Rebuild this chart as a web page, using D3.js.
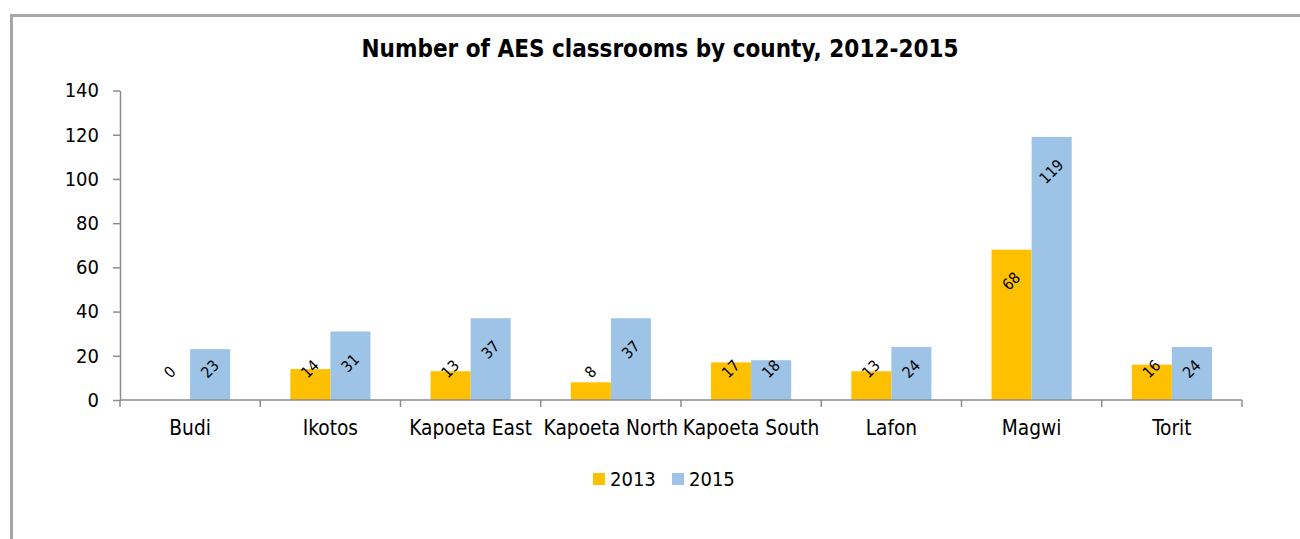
<!DOCTYPE html>
<html>
<head>
<meta charset="utf-8">
<script src="https://cdn.jsdelivr.net/npm/d3@7"></script>
<style>
  html, body { margin: 0; padding: 0; background: #fff; }
  svg { display: block; }
  text { font-family: "DejaVu Sans Condensed", "DejaVu Sans", sans-serif; font-stretch: condensed; fill: #000; }
</style>
</head>
<body>
<svg id="chart" width="1300" height="539"></svg>
<script>
// County names along the category axis
const counties = ["Budi", "Ikotos", "Kapoeta East", "Kapoeta North", "Kapoeta South", "Lafon", "Magwi", "Torit"];
// Series names (legend entries)
const seriesNames = ["2013", "2015"];
// AES classrooms per county
const values2013 = [0, 14, 13, 8, 17, 13, 68, 16];
const values2015 = [23, 31, 37, 37, 18, 24, 119, 24];
// Value axis ticks
const yTicks = [0, 20, 40, 60, 80, 100, 120, 140];
const titleText = "Number of AES classrooms by county, 2012-2015";

const colors = { "2013": "#FFC000", "2015": "#9DC3E6" };
const seriesValues = { "2013": values2013, "2015": values2015 };

const svg = d3.select("#chart");

// Outer chart frame (runs off the right and bottom edges)
svg.append("rect")
  .attr("x", 11.5).attr("y", 15.5)
  .attr("width", 1400).attr("height", 600)
  .attr("fill", "none")
  .attr("stroke", "#a6a6a6")
  .attr("stroke-width", 3);

const plot = { left: 120, right: 1242, top: 90.5, bottom: 400 };

const x = d3.scaleBand().domain(counties).range([plot.left, plot.right]).paddingInner(0).paddingOuter(0);
const xs = d3.scaleBand().domain(seriesNames).range([0, x.bandwidth()]).paddingInner(0).paddingOuter(0.75);
const y = d3.scaleLinear().domain([0, 140]).range([plot.bottom, plot.top]);

// Title
svg.append("text")
  .attr("x", 660).attr("y", 57)
  .attr("text-anchor", "middle")
  .style("font-weight", "bold")
  .style("font-size", "24px")
  .text(titleText);

// Bars
const groups = svg.append("g").selectAll("g")
  .data(counties)
  .join("g")
  .attr("transform", d => `translate(${x(d)},0)`);

const barData = (c, i) => seriesNames.map(s => ({ county: c, series: s, value: seriesValues[s][i] }));

groups.selectAll("rect")
  .data((c, i) => barData(c, i))
  .join("rect")
  .attr("x", d => xs(d.series))
  .attr("y", d => y(d.value))
  .attr("width", xs.bandwidth())
  .attr("height", d => y(0) - y(d.value))
  .attr("fill", d => colors[d.series]);

// Axes
const axisColor = "#8c8c8c";
const yAxis = svg.append("g")
  .attr("transform", `translate(${plot.left},0)`)
  .call(d3.axisLeft(y).tickValues(yTicks).tickSize(7).tickPadding(14).tickSizeOuter(0));
yAxis.select(".domain").attr("stroke", axisColor).attr("stroke-width", 1.5);
yAxis.selectAll(".tick line").attr("stroke", axisColor).attr("stroke-width", 1.5);
yAxis.selectAll(".tick text")
  .style("font-size", "20px")
  .style("font-family", null)
  .attr("fill", "#000");

const xAxis = svg.append("g");
xAxis.append("line")
  .attr("x1", plot.left).attr("x2", plot.right)
  .attr("y1", y(0)).attr("y2", y(0))
  .attr("stroke", axisColor).attr("stroke-width", 1.5);
const boundaries = counties.map(c => x(c)).concat([x.range()[1]]);
xAxis.selectAll("line.tick")
  .data(boundaries)
  .join("line")
  .attr("class", "tick")
  .attr("x1", d => d).attr("x2", d => d)
  .attr("y1", y(0)).attr("y2", y(0) + 7)
  .attr("stroke", axisColor).attr("stroke-width", 1.5);
xAxis.selectAll("text")
  .data(counties)
  .join("text")
  .attr("x", d => x(d) + x.bandwidth() / 2)
  .attr("y", y(0) + 35)
  .attr("text-anchor", "middle")
  .style("font-size", "20.7px")
  .text(d => d);

// Data labels, rotated, placed just inside the top of each bar
const labelLayer = svg.append("g");
counties.forEach((c, i) => {
  seriesNames.forEach(s => {
    const v = seriesValues[s][i];
    const cx = x(c) + xs(s) + xs.bandwidth() / 2;
    const t = labelLayer.append("text")
      .attr("text-anchor", "middle")
      .attr("dominant-baseline", "central")
      .style("font-size", "15.5px")
      .text(v);
    const bb = t.node().getBBox();
    const half = (bb.width + bb.height * 0.72) / (2 * Math.SQRT2);
    const cy = Math.min(y(v) + 21 + half, y(0) - 20 - half);
    t.attr("transform", `translate(${cx},${cy}) rotate(-45)`);
  });
});

// Legend
const legend = svg.append("g");
const legendItems = [{ s: "2013", x: 593 }, { s: "2015", x: 672 }];
legendItems.forEach(d => {
  legend.append("rect")
    .attr("x", d.x).attr("y", 473)
    .attr("width", 12).attr("height", 12)
    .attr("fill", colors[d.s]);
  legend.append("text")
    .attr("x", d.x + 17).attr("y", 486)
    .style("font-size", "20px")
    .text(d.s);
});
</script>
</body>
</html>
